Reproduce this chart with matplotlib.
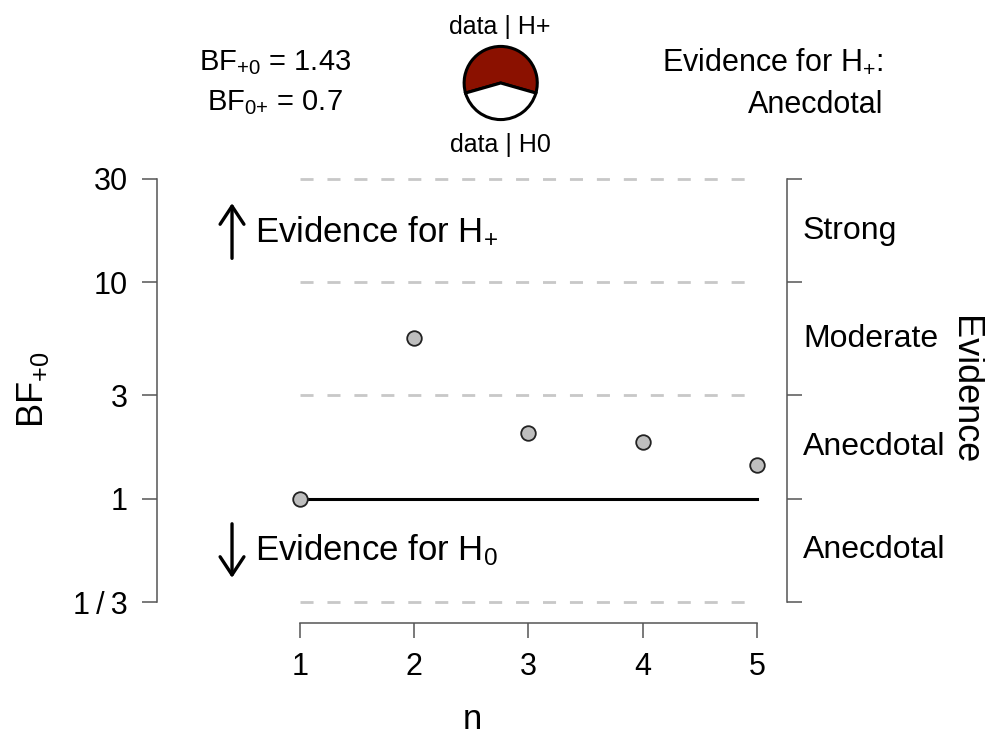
import matplotlib.pyplot as plt
import matplotlib.transforms as mtransforms
import numpy as np

plt.rcParams['font.family'] = ['Liberation Sans', 'DejaVu Sans']
plt.rcParams['mathtext.fontset'] = 'custom'
plt.rcParams['mathtext.rm'] = 'Liberation Sans'
plt.rcParams['mathtext.it'] = 'Liberation Sans:italic'
plt.rcParams['mathtext.bf'] = 'Liberation Sans:bold'

# sequential BF values
n = [1, 2, 3, 4, 5]
bf = [1.0, 5.55, 2.02, 1.82, 1.43]
line_n = [1, 5]
line_bf = [1.0, 1.0]

bf_plus0 = 1.43
bf_0plus = 0.7

ticks = [1/3, 1, 3, 10, 30]
tick_labels = ["1\u2009/\u20093", "1", "3", "10", "30"]
evidence_labels = ["Anecdotal", "Anecdotal", "Moderate", "Strong"]
n_ticks = [1, 2, 3, 4, 5]

axis_grey = "#555555"

fig = plt.figure(figsize=(9.85, 7.38), dpi=100)
ax = fig.add_axes([0.1594, 0.1558, 0.6396, 0.6138])
ax.set_yscale('log')
ax.set_xlim(-0.2516, 5.263)
ax.set_ylim(0.2666, 33.0)

# dashed reference lines
for t in ticks:
    ax.plot([n[0], n[-1]], [t, t], color="#c8c8c8", lw=2,
            linestyle=(0, (4.7, 5.0)), zorder=1)

ax.plot(line_n, line_bf, color="black", lw=2.2, zorder=2)
ax.plot(n, bf, linestyle="none", marker="o", markersize=10.5,
        markerfacecolor="#bebebe", markeredgecolor="#222222",
        markeredgewidth=1.3, zorder=3, clip_on=False)

# axes styling
for side in ["top", "right"]:
    ax.spines[side].set_visible(False)
ax.spines["left"].set_bounds(ticks[0], ticks[-1])
ax.spines["bottom"].set_bounds(n_ticks[0], n_ticks[-1])
for side in ["left", "bottom"]:
    ax.spines[side].set_color(axis_grey)
    ax.spines[side].set_linewidth(1.1)
ax.set_yticks(ticks)
ax.set_yticklabels(tick_labels)
ax.yaxis.set_minor_locator(plt.NullLocator())
ax.set_xticks(n_ticks)
ax.tick_params(axis="both", length=11, width=1.1, color=axis_grey,
               labelsize=22, pad=10)

ax.set_xlabel("n", fontsize=25, labelpad=15)
fig.text(33 / 985, 1 - 390 / 738, r"BF$_{+0}$", fontsize=26,
         rotation=90, ha="center", va="center")

# right evidence axis
rax = ax.twinx()
rax.set_yscale('log')
rax.set_ylim(ax.get_ylim())
for side in ["top", "left", "bottom"]:
    rax.spines[side].set_visible(False)
rax.spines["right"].set_bounds(ticks[0], ticks[-1])
rax.spines["right"].set_color(axis_grey)
rax.spines["right"].set_linewidth(1.1)
rax.set_yticks(ticks)
rax.set_yticklabels([])
rax.yaxis.set_minor_locator(plt.NullLocator())
rax.tick_params(axis="y", length=11, width=1.1, color=axis_grey)

trans = mtransforms.blended_transform_factory(ax.transAxes, ax.transData)
for lo, hi, lab in zip(ticks[:-1], ticks[1:], evidence_labels):
    ax.text(1.0254, np.sqrt(lo * hi), lab, transform=trans,
            fontsize=23, ha="left", va="center")
fig.text(965 / 985, 1 - 390 / 738, "Evidence", fontsize=26,
         rotation=270, ha="center", va="center")

# evidence arrows and labels inside the plot
arrow_style = "->, head_length=0.5, head_width=0.33"
ax.annotate("", xy=(0.405, 23.2), xytext=(0.405, 12.9),
            arrowprops=dict(arrowstyle=arrow_style, lw=2.4, color="black",
                            mutation_scale=26, shrinkA=0, shrinkB=0))
ax.annotate("", xy=(0.405, 0.431), xytext=(0.405, 0.766),
            arrowprops=dict(arrowstyle=arrow_style, lw=2.4, color="black",
                            mutation_scale=26, shrinkA=0, shrinkB=0))
ax.text(0.61, np.sqrt(10 * 30), r"Evidence for H$_{+}$", fontsize=25,
        ha="left", va="center")
ax.text(0.61, np.sqrt(1 / 3), r"Evidence for H$_{0}$", fontsize=25,
        ha="left", va="center")

# header texts
fig.text(275 / 985, 1 - 63 / 738, r"BF$_{+0}$ = " + f"{bf_plus0:.2f}",
         fontsize=21, ha="center", va="center")
fig.text(275 / 985, 1 - 103 / 738, r"BF$_{0{+}}$ = " + f"{bf_0plus:g}",
         fontsize=21, ha="center", va="center")
fig.text(883 / 985, 1 - 62 / 738, r"Evidence for H$_{+}$:",
         fontsize=22, ha="right", va="center")
fig.text(883 / 985, 1 - 105 / 738, "Anecdotal",
         fontsize=22, ha="right", va="center")

# pie chart of data | H+ vs data | H0
pax = fig.add_axes([(500.7 - 40) / 985, (738 - 83 - 40) / 738,
                    80 / 985, 80 / 738])
frac = bf_plus0 / (bf_plus0 + 1)
pax.pie([bf_plus0, 1], colors=["#8b1100", "white"],
        startangle=90 - frac * 180, counterclock=True, radius=0.96,
        wedgeprops=dict(edgecolor="black", linewidth=2.2))
pax.set_xlim(-1.05, 1.05)
pax.set_ylim(-1.05, 1.05)
pax.set_aspect("equal")
pax.axis("off")
fig.text(500 / 985, 1 - 27 / 738, "data | H+", fontsize=18,
         ha="center", va="center")
fig.text(500 / 985, 1 - 145 / 738, "data | H0", fontsize=18,
         ha="center", va="center")

fig.savefig("out.png", dpi=100)
